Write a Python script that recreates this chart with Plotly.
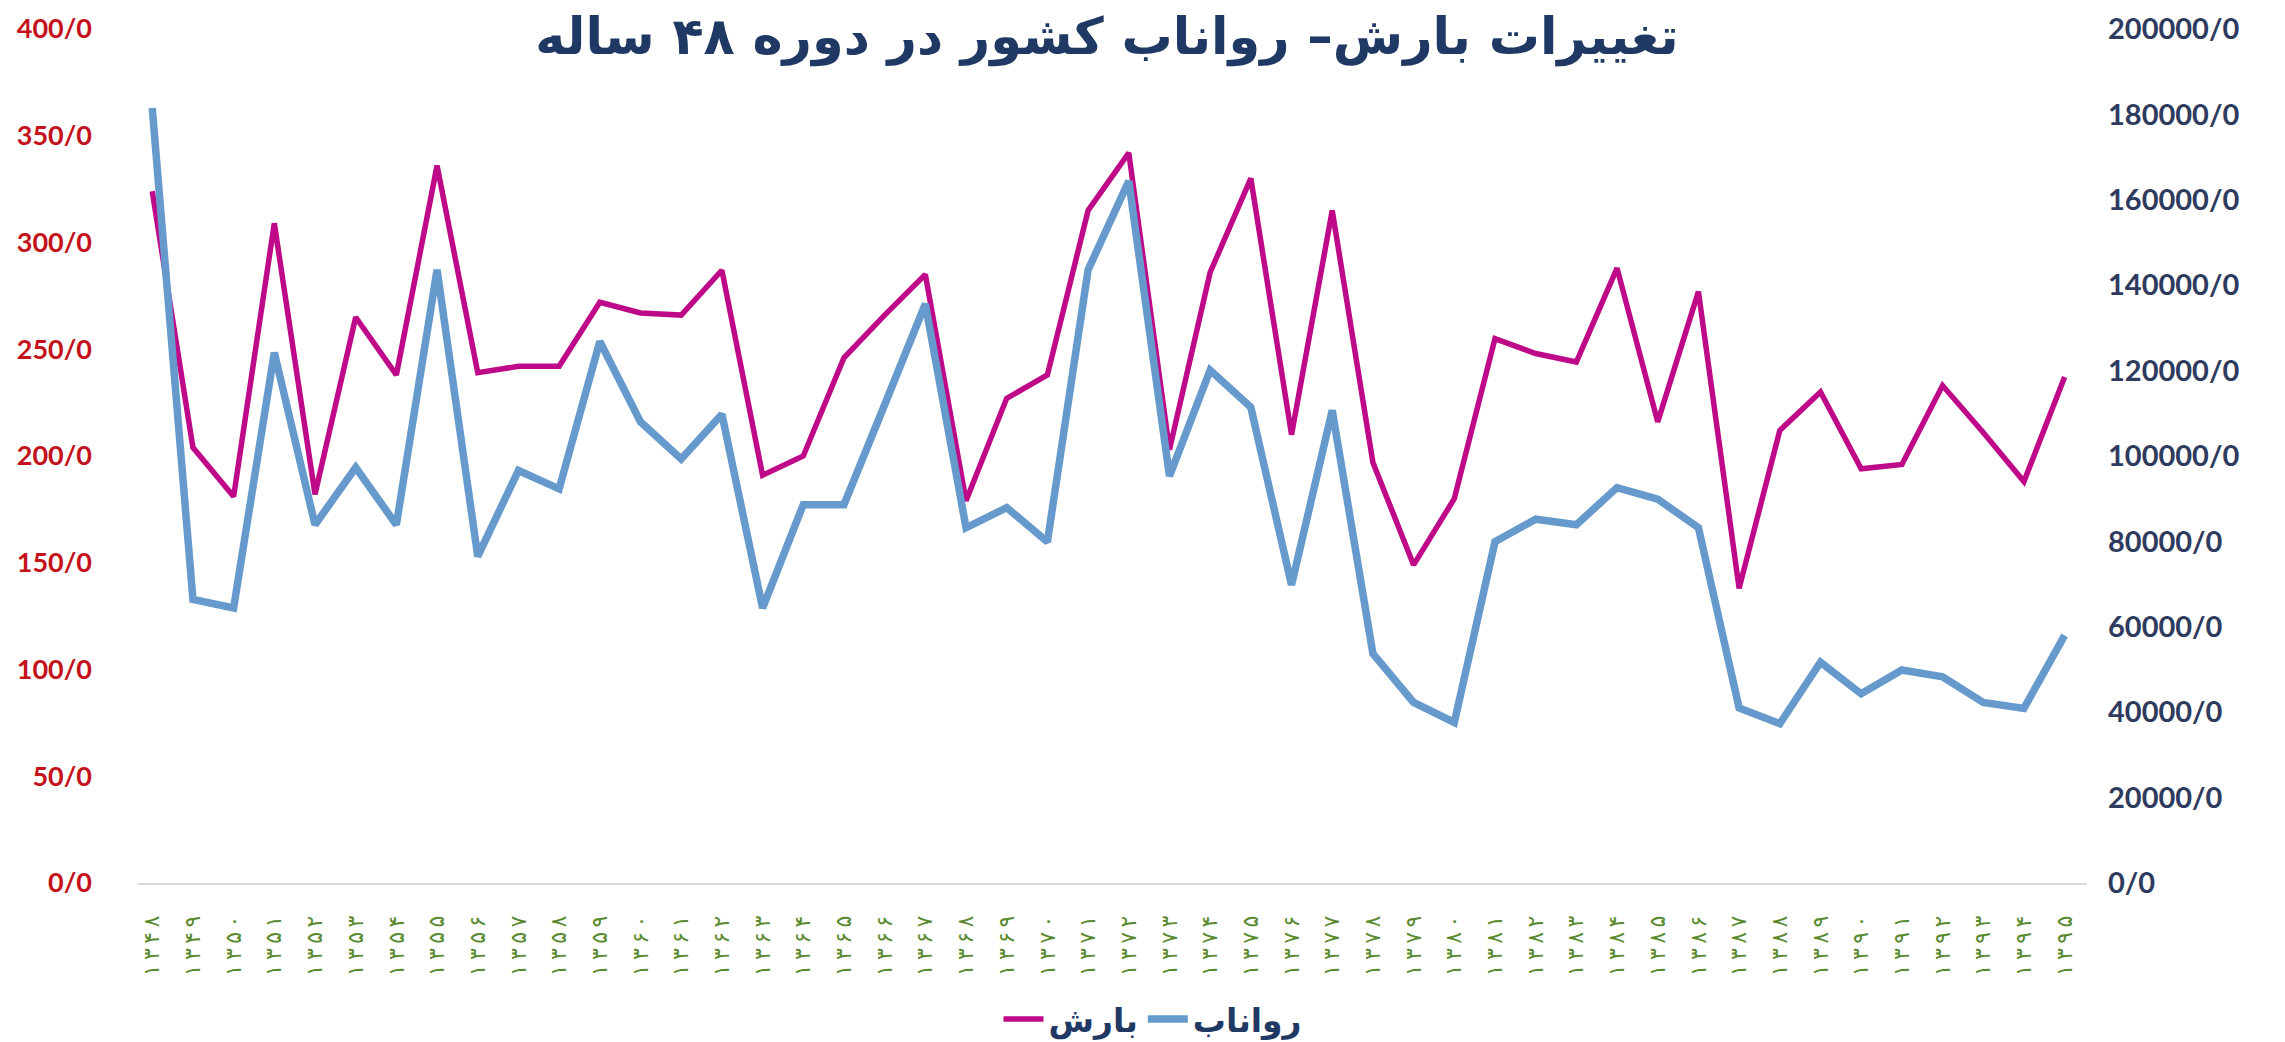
import plotly.graph_objects as go

years = ["۱۳۴۸","۱۳۴۹","۱۳۵۰","۱۳۵۱","۱۳۵۲","۱۳۵۳","۱۳۵۴","۱۳۵۵","۱۳۵۶","۱۳۵۷",
         "۱۳۵۸","۱۳۵۹","۱۳۶۰","۱۳۶۱","۱۳۶۲","۱۳۶۳","۱۳۶۴","۱۳۶۵","۱۳۶۶","۱۳۶۷",
         "۱۳۶۸","۱۳۶۹","۱۳۷۰","۱۳۷۱","۱۳۷۲","۱۳۷۳","۱۳۷۴","۱۳۷۵","۱۳۷۶","۱۳۷۷",
         "۱۳۷۸","۱۳۷۹","۱۳۸۰","۱۳۸۱","۱۳۸۲","۱۳۸۳","۱۳۸۴","۱۳۸۵","۱۳۸۶","۱۳۸۷",
         "۱۳۸۸","۱۳۸۹","۱۳۹۰","۱۳۹۱","۱۳۹۲","۱۳۹۳","۱۳۹۴","۱۳۹۵"]

precip = [324, 204, 181, 309, 182, 265, 238, 336, 239, 242,
          242, 272, 267, 266, 287, 191, 200, 246, 266, 285,
          179, 227, 238, 315, 342, 203, 286, 330, 210, 315,
          197, 149, 180, 255, 248, 244, 288, 216, 277, 138,
          212, 230, 194, 196, 233, 211, 188, 237]

runoff = [181500, 66400, 64400, 124200, 83900, 97300, 83900, 143600, 76500, 96600,
          92300, 126800, 108000, 99300, 109800, 64400, 88600, 88600, 112000, 135600,
          83200, 87900, 79900, 143600, 164400, 95300, 120100, 111400, 69800, 110700,
          53700, 42300, 37600, 79900, 85200, 83900, 92600, 89900, 83200, 41000,
          37300, 51700, 44300, 49900, 48300, 42300, 40900, 58000]

left_ticks = [0, 50, 100, 150, 200, 250, 300, 350, 400]
left_text = ["0/0", "50/0", "100/0", "150/0", "200/0", "250/0", "300/0", "350/0", "400/0"]
right_ticks = [0, 20000, 40000, 60000, 80000, 100000, 120000, 140000, 160000, 180000, 200000]
right_text = ["0/0", "20000/0", "40000/0", "60000/0", "80000/0", "100000/0", "120000/0",
              "140000/0", "160000/0", "180000/0", "200000/0"]

title_text = "تغییرات بارش– رواناب کشور در دوره ۴۸ ساله"
name_precip = "بارش"
name_runoff = "رواناب"

idx = list(range(len(years)))
# spaced-out digits, as in the reference's tick labels
year_labels = ["\u2009".join(y) for y in years]

fig = go.Figure()
fig.add_trace(go.Scatter(x=idx, y=precip, name=name_precip, mode="lines",
                         line=dict(color="#BE0A88", width=5.5), yaxis="y"))
fig.add_trace(go.Scatter(x=idx, y=runoff, name=name_runoff, mode="lines",
                         line=dict(color="#6699CC", width=7.5), yaxis="y2"))

W, H = 2285, 1042
ml, mr, mt, mb = 130, 206, 21, 167

fig.update_layout(
    width=W, height=H,
    margin=dict(l=ml, r=mr, t=mt, b=mb, pad=0, autoexpand=False),
    paper_bgcolor="white", plot_bgcolor="white",
    font=dict(family="DejaVu Sans"),
    title=dict(text=title_text, x=1099 / W, xref="container", xanchor="center",
               y=1 - 28 / H, yref="container", yanchor="middle",
               font=dict(family="DejaVu Sans", size=51, color="#1F3864", weight="bold")),
    xaxis=dict(range=[-0.35, 47.55], tickmode="array", tickvals=idx, ticktext=year_labels,
               tickangle=-90, tickfont=dict(family="DejaVu Sans", size=22, color="#5A8A30"),
               showgrid=False, zeroline=False, showline=True, linecolor="#D9D9D9", linewidth=2,
               ticks="", ticklabelstandoff=22, automargin=False, fixedrange=True),
    yaxis=dict(range=[0, 400], tickmode="array", tickvals=left_ticks, ticktext=left_text,
               tickfont=dict(family="Lato", size=27, color="#C4121C", weight="bold"),
               showgrid=False, zeroline=False, showline=False, ticks="",
               ticklabelstandoff=45, automargin=False),
    yaxis2=dict(range=[0, 200000], overlaying="y", side="right", tickmode="array",
                tickvals=right_ticks, ticktext=right_text,
                tickfont=dict(family="Lato", size=29, color="#2E3B5E", weight="bold"),
                showgrid=False, zeroline=False, showline=False, ticks="",
                ticklabelstandoff=20, automargin=False),
    legend=dict(orientation="h", xref="container", yref="container",
                x=1145 / W, xanchor="center", y=1 - 1011 / H, yanchor="middle",
                font=dict(family="DejaVu Sans", size=33, color="#1F3864", weight="bold"),
                itemwidth=40, tracegroupgap=0, bgcolor="rgba(0,0,0,0)"),
    showlegend=True,
)

fig.write_html("out.html")
